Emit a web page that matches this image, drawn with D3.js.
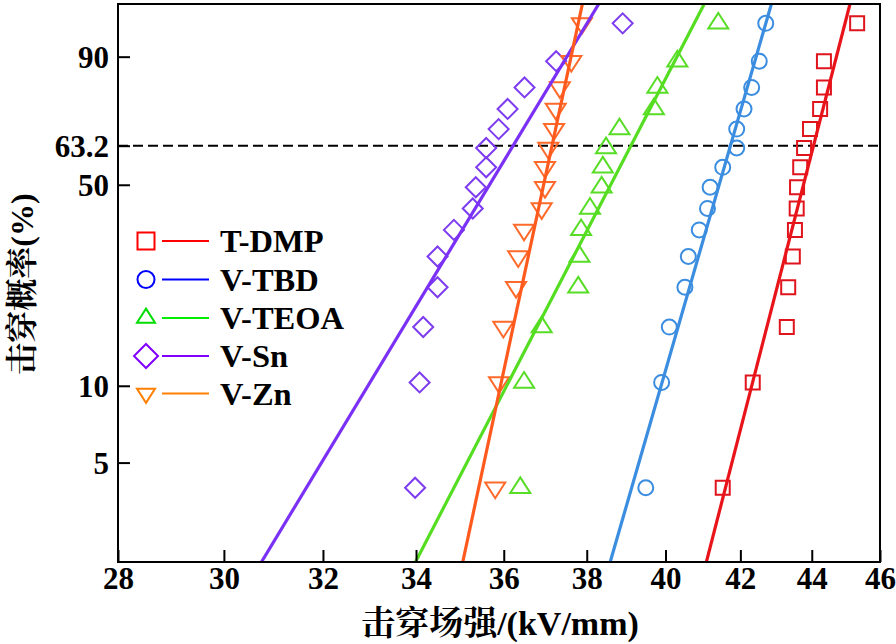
<!DOCTYPE html>
<html><head><meta charset="utf-8">
<script src="https://cdn.jsdelivr.net/npm/d3@7"></script>
<style>
html,body{margin:0;padding:0;background:#fff;}
svg{display:block;}
</style></head>
<body>
<svg id="chart" width="896" height="644"></svg>
<script>
// ---------------- data ----------------
const xTicks = [28, 30, 32, 34, 36, 38, 40, 42, 44, 46];
const probTicks = [5, 10, 50, 63.2, 90];
const probTickLabels = ["5", "10", "50", "63.2", "90"];
const probDomain = [2, 97.7];               // % range of the Weibull probability axis
// failure probability (%) of each rank (shared by all samples)
const rankProb = [3.97, 10.3, 16.7, 23.3, 29.8, 36.5, 42.6, 49.2, 55.8, 62.4, 68.9, 75.6, 82.2, 89.0, 95.7];
const seriesNames = ["T-DMP", "V-TBD", "V-TEOA", "V-Sn", "V-Zn"];
const tdmp  = [41.52, 42.34, 43.29, 43.33, 43.46, 43.52, 43.57, 43.58, 43.67, 43.78, 43.95, 44.24, 44.35, 44.35, 45.32];
const vtbd  = [39.49, 39.90, 40.10, 40.51, 40.60, 40.89, 41.11, 41.18, 41.52, 41.90, 41.90, 42.10, 42.31, 42.52, 42.70];
const vteoa = [36.39, 36.48, 36.90, 37.79, 37.82, 37.86, 38.08, 38.37, 38.40, 38.48, 38.82, 39.70, 39.79, 40.31, 41.40];
const vsn   = [33.98, 34.08, 34.16, 34.48, 34.48, 34.85, 35.28, 35.35, 35.59, 35.59, 35.88, 36.09, 36.49, 37.25, 38.90];
const vzn   = [35.80, 35.89, 35.99, 36.29, 36.34, 36.48, 36.90, 36.98, 36.98, 37.06, 37.20, 37.24, 37.34, 37.62, 37.88];
// Weibull fit parameters (scale alpha in kV/mm, shape beta)
const fitAlpha = [44.05, 41.73, 39.11, 36.22, 37.15];
const fitBeta  = [55.9, 49.8, 27.8, 23.8, 67.1];

// ---------------- styles ----------------
const lineColors   = ["#e8141a", "#3b8de0", "#55dd22", "#7b30f5", "#ff5a1e"];
const markColors   = ["#e0141c", "#3b8de0", "#58dd26", "#7d3cf0", "#ff6a2a"];
const legendLine   = ["#ff0000", "#0000ff", "#00ee00", "#8000ff", "#ff8000"];
const legendMark   = ["#ff0000", "#0000ff", "#00dd00", "#8000ff", "#ff8000"];
const shapes = ["square", "circle", "triangle", "diamond", "triangleDown"];
const FONT = '"Liberation Serif", "Noto Serif CJK SC", serif';

const svg = d3.select("#chart");
const L = 118, R = 880, T = 4, B = 562;

const weib = p => Math.log(-Math.log(1 - p / 100));
const x = d3.scaleLog().domain([28, 46]).range([L, R]);
const y = d3.scaleLinear().domain([weib(probDomain[0]), weib(probDomain[1])]).range([B, T]);

svg.append("defs").append("clipPath").attr("id", "clip")
  .append("rect").attr("x", L).attr("y", T).attr("width", R - L).attr("height", B - T);

// dashed 63.2% line
svg.append("line")
  .attr("x1", L).attr("x2", R)
  .attr("y1", y(weib(63.2))).attr("y2", y(weib(63.2)))
  .attr("stroke", "#000").attr("stroke-width", 2).attr("stroke-dasharray", "10,5");

function shapePath(kind, s) {
  const p = d3.path();
  if (kind === "square") { p.rect(-s / 2, -s / 2, s, s); }
  else if (kind === "circle") { p.arc(0, 0, s / 2, 0, 2 * Math.PI); p.closePath(); }
  else if (kind === "triangle") { const h = s * 0.78; p.moveTo(0, -h * 2 / 3); p.lineTo(s / 2, h / 3); p.lineTo(-s / 2, h / 3); p.closePath(); }
  else if (kind === "triangleDown") { const h = s * 0.78; p.moveTo(0, h * 2 / 3); p.lineTo(s / 2, -h / 3); p.lineTo(-s / 2, -h / 3); p.closePath(); }
  else if (kind === "diamond") { const d = s / 2; p.moveTo(0, -d); p.lineTo(d, 0); p.lineTo(0, d); p.lineTo(-d, 0); p.closePath(); }
  return p.toString();
}
const markSize = { square: 14, circle: 15, triangle: 20, triangleDown: 20, diamond: 20 };

const allSeries = [tdmp, vtbd, vteoa, vsn, vzn];
const plot = svg.append("g").attr("clip-path", "url(#clip)");

// markers
allSeries.forEach((vals, i) => {
  plot.append("g").selectAll("path").data(vals).join("path")
    .attr("transform", (d, j) => `translate(${x(d)},${y(weib(rankProb[j]))})`)
    .attr("d", shapePath(shapes[i], markSize[shapes[i]]))
    .attr("fill", "none").attr("stroke", markColors[i]).attr("stroke-width", 2);
});

// fitted lines
const vEnds = y.domain();
const lineGen = d3.line().x(d => x(d[0])).y(d => y(d[1]));
fitAlpha.forEach((a, i) => {
  const pts = vEnds.map(v => [a * Math.exp(v / fitBeta[i]), v]);
  plot.append("path").attr("d", lineGen(pts))
    .attr("fill", "none").attr("stroke", lineColors[i]).attr("stroke-width", 3.2);
});

// axes
const xAxis = d3.axisBottom(x).tickValues(xTicks).tickSize(-12).tickSizeOuter(0).tickFormat(d3.format("d"));
const gx = svg.append("g").attr("transform", `translate(0,${B})`).call(xAxis);
gx.select(".domain").remove();
gx.selectAll(".tick line").attr("stroke", "#000").attr("stroke-width", 2);
gx.selectAll(".tick text").style("font-family", FONT).style("font-size", "31px").style("font-weight", "bold")
  .attr("fill", "#000").attr("y", 5).attr("dy", "0.71em");

const yAxis = d3.axisLeft(y).tickValues(probTicks.map(weib)).tickSize(-12).tickSizeOuter(0)
  .tickFormat((d, i) => probTickLabels[i]);
const gy = svg.append("g").attr("transform", `translate(${L},0)`).call(yAxis);
gy.select(".domain").remove();
gy.selectAll(".tick line").attr("stroke", "#000").attr("stroke-width", 2);
gy.selectAll(".tick text").style("font-family", FONT).style("font-size", "31px").style("font-weight", "bold")
  .attr("fill", "#000").attr("x", -9).attr("dy", "0.34em");

svg.append("rect").attr("x", L).attr("y", T).attr("width", R - L).attr("height", B - T)
  .attr("fill", "none").attr("stroke", "#000").attr("stroke-width", 2);

// axis titles
svg.append("text").attr("x", 500).attr("y", 635).attr("text-anchor", "middle")
  .style("font-family", FONT).style("font-size", "34px").style("font-weight", "bold").text("击穿场强/(kV/mm)");
svg.append("text").attr("transform", "translate(33,284) rotate(-90)").attr("text-anchor", "middle")
  .style("font-family", FONT).style("font-size", "32px").style("font-weight", "bold").text("击穿概率(%)");

// legend
const legRows = [241, 279.5, 318, 356, 393.5];
const legMarkSize = { square: 17, circle: 17, triangle: 18, triangleDown: 18, diamond: 24 };
seriesNames.forEach((name, i) => {
  const g = svg.append("g").attr("transform", `translate(0,${legRows[i]})`);
  g.append("path").attr("transform", "translate(146,0)")
    .attr("d", shapePath(shapes[i], legMarkSize[shapes[i]]))
    .attr("fill", "none").attr("stroke", legendMark[i]).attr("stroke-width", 2);
  g.append("line").attr("x1", 162).attr("x2", 209).attr("y1", 0).attr("y2", 0)
    .attr("stroke", legendLine[i]).attr("stroke-width", 2);
  g.append("text").attr("x", 220).attr("y", 0).attr("dy", "0.35em")
    .style("font-family", FONT).style("font-size", "32.5px").style("font-weight", "bold").text(name);
});
</script>
</body></html>
